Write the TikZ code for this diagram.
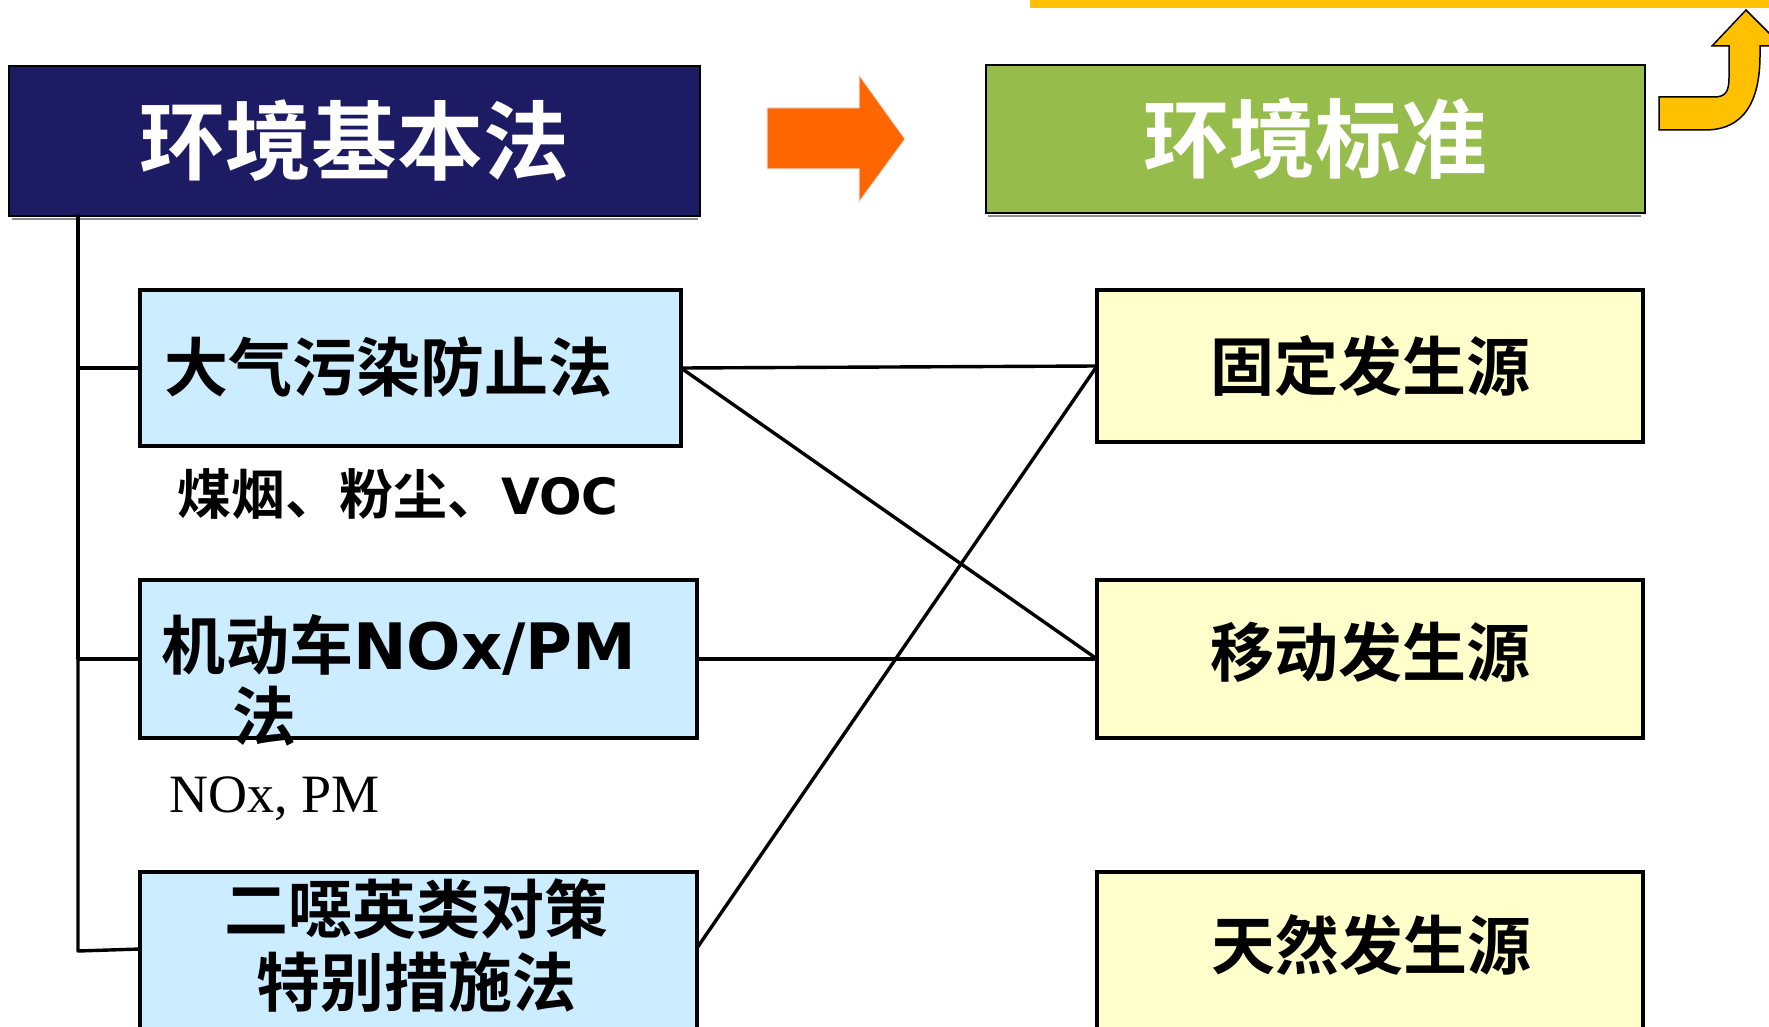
\documentclass[tikz,border=0pt]{standalone}
\usepackage{fontspec}
\setmainfont{Liberation Serif}
\newfontfamily\cjk{Noto Sans CJK SC Bold}
\newfontfamily\latb{DejaVu Sans Bold}
\definecolor{navyc}{HTML}{1C1B63}
\definecolor{greenc}{HTML}{96BC4B}
\definecolor{bluec}{HTML}{CCECFF}
\definecolor{creamc}{HTML}{FFFFCC}
\definecolor{orangec}{HTML}{FF6600}
\definecolor{goldc}{HTML}{FFC000}
\tikzset{
  headbox/.style={draw=black, line width=2.5pt, inner sep=0pt, outer sep=0pt, text=white,
    font=\cjk\fontsize{86}{90}\selectfont},
  lawbox/.style={draw=black, line width=4pt, fill=bluec, inner sep=0pt, outer sep=0pt,
    font=\cjk\fontsize{64}{73}\selectfont},
  srcbox/.style={draw=black, line width=4pt, fill=creamc, inner sep=0pt, outer sep=0pt,
    font=\cjk\fontsize{64}{73}\selectfont},
  lbl/.style={inner sep=0pt, font=\cjk\fontsize{64}{73}\selectfont},
  conn/.style={draw=black, line width=3.4pt, line cap=round, line join=round},
  shadowline/.style={draw=black!45, line width=2pt}
}
\begin{document}
\begin{tikzpicture}[x=1pt,y=-1pt]
\useasboundingbox (0,0) rectangle (1769,1027);
\clip (0,0) rectangle (1769,1027);
\fill[white] (0,0) rectangle (1769,1027);

% top yellow bar
\fill[goldc] (1030,0) rectangle (1769,8);

% header boxes
\draw[shadowline] (12,219) -- (698,219);
\node[headbox, fill=navyc, minimum width=691pt, minimum height=150pt] (nv) at (354.5,141) {环境基本法};
\draw[shadowline] (988,216) -- (1641,216);
\node[headbox, fill=greenc, minimum width=659pt, minimum height=148pt] (gr) at (1315.5,139) {环境标准};

% orange arrow
\draw[fill=orangec, draw=black!12, line width=1pt, line join=miter]
  (767,108) -- (859,108) -- (859,75) -- (905,139) -- (859,202) -- (859,169) -- (767,169) -- cycle;

% gold U-turn arrow
\draw[fill=goldc, draw=black, line width=1.5pt, line join=miter]
  (1659,130) -- (1705,130) .. controls (1745,130) and (1760,100) .. (1760,55)
  -- (1760,46) -- (1782,46) -- (1746,10) -- (1712,46) -- (1729,46) -- (1729,78)
  .. controls (1729,92) and (1725,97) .. (1714,97) -- (1659,97) -- cycle;

% law boxes
\node[lawbox, minimum width=541pt, minimum height=156pt] (b1) at (410.5,368) {};
\node[lbl] (t1) at (388,367) {大气污染防止法};
\node[lawbox, minimum width=557pt, minimum height=158pt] (b2) at (418.5,659) {};
\node[lawbox, minimum width=557pt, minimum height=168pt] (b3) at (418.5,956) {};

\node[lbl, anchor=base west] (t2a) at (161,669) {机动车{\latb NOx/PM}};
\node[lbl] (t2b) at (264,716) {法};
\node[lbl, align=center] (t3) at (416,946) {二噁英类对策\\特别措施法};

\node[inner sep=0pt, anchor=base, font=\cjk\fontsize{54}{60}\selectfont] (n1) at (398,514) {煤烟、粉尘、{\latb\fontsize{50}{60}\selectfont VOC}};
\node[inner sep=0pt, anchor=base west, font=\fontsize{54}{60}\selectfont] (n2) at (169,812) {NOx, PM};

% source boxes
\node[srcbox, minimum width=546pt, minimum height=152pt] (r1) at (1370,366) {固定发生源};
\node[srcbox, minimum width=546pt, minimum height=158pt] (r2) at (1370,659) {};
\node[lbl] (r2t) at (1370,652) {移动发生源};
\node[srcbox, minimum width=546pt, minimum height=168pt] (r3) at (1370,956) {};
\node[lbl] (r3t) at (1371,945) {天然发生源};

% tree connectors
\coordinate (t0) at ([xshift=69pt]nv.south west);
\coordinate (t9) at (78,951);
\draw[conn] (t0) |- (b1.west);
\draw[conn] (t0) |- (b2.west);
\draw[conn] (t0) -- (t9) -- ([yshift=-77pt]b3.north west);

% cross connectors
\draw[conn] (b1.east) -- (r1.west);
\draw[conn] (b1.east) -- (r2.west);
\draw[conn] (b2.east) -- (r2.west);
\draw[conn] ([yshift=-76pt]b3.north east) -- (r1.west);
\end{tikzpicture}
\end{document}
